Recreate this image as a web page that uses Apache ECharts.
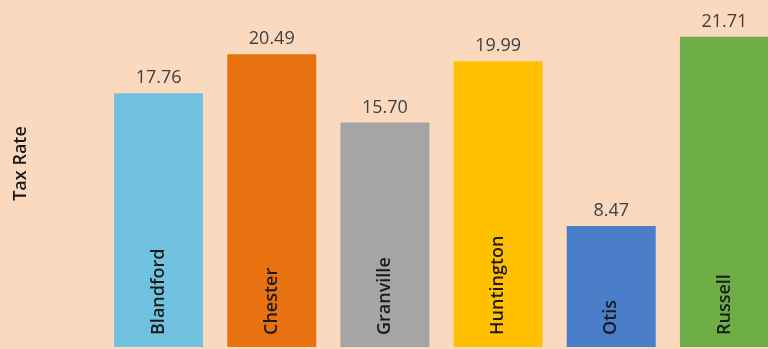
<!DOCTYPE html>
<html>
<head>
<meta charset="utf-8">
<script src="https://cdn.jsdelivr.net/npm/echarts@6/dist/echarts.min.js"></script>
<style>
	html, body { margin: 0; padding: 0; background: #fbd9bf; overflow: hidden; }
	/* 最右侧柱子在原图中被裁切，容器稍宽于窗口 */
	#bar { width: 781px; height: 349px; }
</style>
</head>
<body>
<div id="bar"></div>
<script>
// 城镇税率数据
var towns = ['Blandford', 'Chester', 'Granville', 'Huntington', 'Otis', 'Russell'];
var taxRates = [17.76, 20.49, 15.70, 19.99, 8.47, 21.71];
var barColors = ['#71c1e0', '#e8720f', '#a5a5a5', '#ffc000', '#4a7ec8', '#6fad47'];

var myChart = echarts.init(document.getElementById('bar'));

var option = {
	backgroundColor : '#fbd9bf',
	animation : false,
	grid : {
		left : 102,
		right : 0,
		top : 4,
		bottom : 2
	},
	xAxis : {
		type : 'category',
		data : towns,
		axisLine : { show : false },
		axisTick : { show : false },
		axisLabel : {
			inside : true,
			rotate : 90,
			margin : 12,
			fontFamily : 'Open Sans',
			fontSize : 18,
			fontWeight : 600,
			color : '#1a1a1a'
		},
		z : 10
	},
	yAxis : {
		type : 'value',
		min : 0,
		max : 24,
		axisLine : { show : false },
		axisTick : { show : false },
		axisLabel : { show : false },
		splitLine : { show : false },
		name : 'Tax Rate',
		nameLocation : 'middle',
		nameGap : 72,
		nameRotate : 90,
		nameTextStyle : {
			fontFamily : 'Open Sans',
			fontSize : 18,
			fontWeight : 600,
			color : '#1a1a1a',
			padding : [0, 0, 0, 24]
		}
	},
	series : [ {
		type : 'bar',
		barWidth : 89,
		data : taxRates.map(function(v, i) {
			return { value : v, itemStyle : { color : barColors[i] } };
		}),
		label : {
			show : true,
			position : 'top',
			distance : 6,
			fontFamily : 'Open Sans',
			fontSize : 18,
			color : '#404040',
			formatter : function(p) {
				return p.value.toFixed(2);
			}
		}
	} ]
};
myChart.setOption(option);
</script>
</body>
</html>
